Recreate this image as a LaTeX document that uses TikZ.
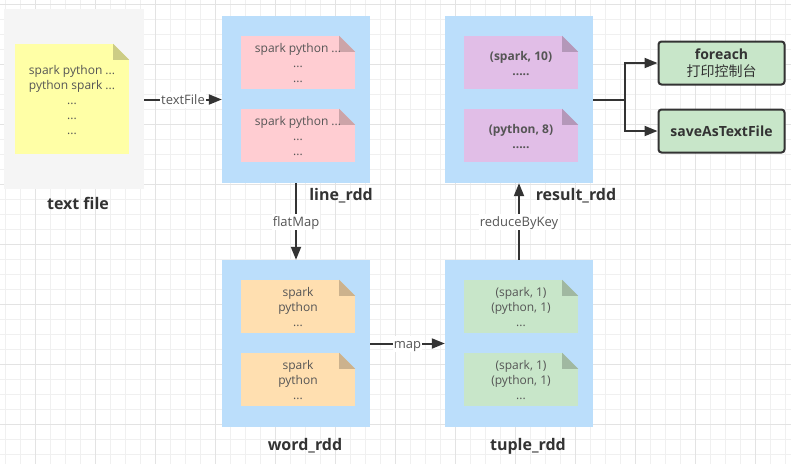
\documentclass[tikz,border=0pt]{standalone}
\usepackage{fontspec}
\setmainfont{Open Sans}
\newfontfamily\cjkfont{Noto Sans CJK SC}
\usetikzlibrary{arrows.meta, positioning}
\definecolor{inkDark}{HTML}{333333}
\definecolor{inkText}{HTML}{555555}
\definecolor{rddBlue}{HTML}{BBDEFB}
\definecolor{fileGray}{HTML}{F5F5F5}
\definecolor{noteYellow}{HTML}{FFFFA6}
\definecolor{notePink}{HTML}{FFCDD2}
\definecolor{notePurple}{HTML}{E1BEE7}
\definecolor{noteOrange}{HTML}{FFDFB0}
\definecolor{noteGreen}{HTML}{C8E6C9}
\tikzset{
    gridMinor/.style={line width=1pt, draw=black!6},
    gridMajor/.style={line width=1pt, draw=black!11},
    rddBox/.style={rectangle, fill=rddBlue, inner sep=0pt, minimum width=148pt, minimum height=167pt},
    fileBox/.style={rectangle, fill=fileGray, inner sep=0pt, minimum width=140pt, minimum height=180pt},
    noteBox/.style={rectangle, inner sep=0pt, minimum width=114pt},
    noteText/.style={inner sep=0pt, align=center, text=inkText, font=\fontsize{12}{15}\selectfont},
    outBox/.style={rectangle, rounded corners=3pt, draw=inkDark, line width=2pt, fill=noteGreen, inner sep=0pt, minimum width=126pt, minimum height=43pt, align=center, text=inkDark, font=\fontsize{14}{17}\selectfont},
    rddTitle/.style={text=inkDark, inner sep=0pt, font=\fontsize{16}{18}\selectfont\bfseries},
    flowEdge/.style={-{Triangle[length=13pt, width=10pt]}, draw=inkDark, line width=2pt},
    edgeLabel/.style={fill=white, inner sep=1pt, text height=12pt, text depth=2pt, text=inkText, font=\fontsize{13}{15}\selectfont},
}
% name, centre, height, fill, corner colour, text
\newcommand{\drawNote}[6]{
    \node[noteBox, fill=#4, minimum height=#3pt] (#1) at #2 {};
    \fill[#5] (#1.north east) -- ++(-16,0) -- ++(16,16) -- cycle;
    \fill[#4!80!black] (#1.north east) ++(-16,0) -- ++(16,16) -- ++(-16,0) -- cycle;
    \node[noteText, yshift=-1pt] (#1Text) at (#1) {#6};
}
\begin{document}
\begin{tikzpicture}[x=1pt, y=-1pt]
        \useasboundingbox (0,0) rectangle (791,464);
        \fill[white] (0,0) rectangle (791,464);

        % background grid
        \foreach \gx in {5,20,...,790} {\draw[gridMinor] (\gx,0) -- (\gx,464);}
        \foreach \gy in {4,19,...,464} {\draw[gridMinor] (0,\gy) -- (791,\gy);}
        \foreach \gx in {35,95,...,790} {\draw[gridMajor] (\gx,0) -- (\gx,464);}
        \foreach \gy in {4,64,...,464} {\draw[gridMajor] (0,\gy) -- (791,\gy);}

        % containers
        \node[fileBox] (textFile) at (74,99) {};
        \node[rddBox] (lineRdd) at (296,99.5) {};
        \node[rddBox] (resultRdd) at (519,99.5) {};
        \node[rddBox] (wordRdd) at (296,343.5) {};
        \node[rddBox] (tupleRdd) at (519,343.5) {};

        % notes
        \drawNote{fileNote}{(72,99)}{110}{noteYellow}{fileGray}{spark python ...\\python spark ...\\...\\...\\...}
        \drawNote{lineNoteA}{(298,62.5)}{53}{notePink}{rddBlue}{spark python ...\\...\\...}
        \drawNote{lineNoteB}{(298,135.5)}{53}{notePink}{rddBlue}{spark python ...\\...\\...}
        \drawNote{resultNoteA}{(521,62.5)}{53}{notePurple}{rddBlue}{\textbf{(spark, 10)}\\\textbf{.....}}
        \drawNote{resultNoteB}{(521,135.5)}{53}{notePurple}{rddBlue}{\textbf{(python, 8)}\\\textbf{.....}}
        \drawNote{wordNoteA}{(298,306.5)}{53}{noteOrange}{rddBlue}{spark~\\python~\\...}
        \drawNote{wordNoteB}{(298,379.5)}{53}{noteOrange}{rddBlue}{spark\\python\\...}
        \drawNote{tupleNoteA}{(521,306.5)}{53}{noteGreen}{rddBlue}{(spark, 1)~\\(python, 1)~\\...}
        \drawNote{tupleNoteB}{(521,379.5)}{53}{noteGreen}{rddBlue}{(spark, 1)~\\(python, 1)~\\...}

        % outputs
        \node[outBox, yshift=-1pt] (foreachBox) at (721.5,62) {\textbf{foreach}\\{\cjkfont 打印控制台}};
        \node[outBox] (saveBox) at (721.5,131) {\textbf{saveAsTextFile}};

        % titles
        \node[rddTitle] (textFileTitle) at (78,203) {text file};
        \node[rddTitle] (lineTitle) at (341,196) {line\_rdd};
        \node[rddTitle] (resultTitle) at (576,196) {result\_rdd};
        \node[rddTitle] (wordTitle) at (305,446) {word\_rdd};
        \node[rddTitle] (tupleTitle) at (528,446) {tuple\_rdd};

        % connectors
        \draw[flowEdge] (textFile.east |- lineRdd.west) -- node[edgeLabel, pos=0.5] {textFile} (lineRdd.west);
        \draw[flowEdge] (lineRdd) -- node[edgeLabel, pos=0.5] {flatMap} (wordRdd);
        \draw[flowEdge] (wordRdd) -- node[edgeLabel, pos=0.5] {map} (tupleRdd);
        \draw[flowEdge] (tupleRdd) -- node[edgeLabel, pos=0.5] {reduceByKey} (resultRdd);
        \coordinate (fork) at (625,99.5);
        \draw[flowEdge] (resultRdd.east) -- (fork) |- (foreachBox.west);
        \draw[flowEdge] (resultRdd.east) -- (fork) |- (saveBox.west);
    \end{tikzpicture}
\end{document}
